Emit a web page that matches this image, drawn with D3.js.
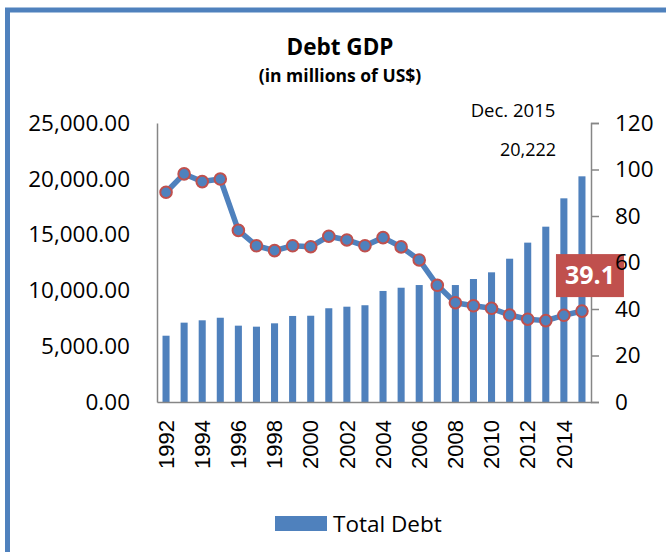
<!DOCTYPE html>
<html>
<head>
<meta charset="utf-8">
<script src="https://cdn.jsdelivr.net/npm/d3@7/dist/d3.min.js"></script>
<style>
  html, body { margin: 0; padding: 0; background: #fff; }
  svg { display: block; }
</style>
</head>
<body>
<script>
const years = [1992,1993,1994,1995,1996,1997,1998,1999,2000,2001,2002,2003,2004,2005,2006,2007,2008,2009,2010,2011,2012,2013,2014,2015];
const totalDebt = [5940,7110,7320,7550,6840,6750,7050,7710,7730,8400,8540,8670,9950,10240,10480,10550,10480,11020,11620,12840,14280,15710,18250,20222];
const debtGdp = [90.2,98.1,94.8,95.9,73.8,67.2,65.1,67.2,66.8,71.3,69.7,67.2,70.7,66.7,61.1,50.2,42.7,41.4,40.3,37.4,35.6,35.0,37.3,39.1];
const leftTicks = [0,5000,10000,15000,20000,25000];
const rightTicks = [0,20,40,60,80,100,120];
const xLabelYears = [1992,1994,1996,1998,2000,2002,2004,2006,2008,2010,2012,2014];
const titleText = "Debt GDP";
const subtitleText = "(in millions of US$)";
const legendText = "Total Debt";
const noteLines = ["Dec. 2015", "20,222"];
const lastLabel = "39.1";

const W = 666, H = 552;
const blue = "#4F81BD", red = "#C0504D", axisGray = "#868686";
const font = "'Open Sans', sans-serif";

const svg = d3.select("body").append("svg").attr("width", W).attr("height", H);

// frame
svg.append("rect").attr("x", 7.5).attr("y", 10).attr("width", 720).attr("height", 620)
  .attr("fill", "none").attr("stroke", blue).attr("stroke-width", 5);

const plot = {left: 157, right: 591, top: 123, bottom: 402};

const x = d3.scaleBand().domain(years).range([plot.left, plot.right])
  .paddingInner(0.61).paddingOuter(0.305);
const yL = d3.scaleLinear().domain([0, 25000]).range([plot.bottom, plot.top]);
const yR = d3.scaleLinear().domain([0, 120]).range([plot.bottom, plot.top]);

// titles
svg.append("text").attr("x", 340).attr("y", 55).attr("text-anchor", "middle")
  .attr("font-family", font).attr("font-weight", "bold").attr("font-size", 22.5).text(titleText);
svg.append("text").attr("x", 340).attr("y", 82).attr("text-anchor", "middle")
  .attr("font-family", font).attr("font-weight", "bold").attr("font-size", 17.5).text(subtitleText);

// bars
svg.append("g").selectAll("rect").data(years).join("rect")
  .attr("x", d => x(d)).attr("width", x.bandwidth())
  .attr("y", (d, i) => yL(totalDebt[i]))
  .attr("height", (d, i) => yL(0) - yL(totalDebt[i]))
  .attr("fill", blue);

// left axis
const gL = svg.append("g").attr("transform", `translate(${plot.left},0)`)
  .call(d3.axisLeft(yL).tickValues(leftTicks).tickSize(0).tickPadding(27)
    .tickFormat(d => d3.format(",.2f")(d)));
gL.select(".domain").attr("stroke", axisGray).attr("stroke-width", 1.5);
gL.selectAll("text").attr("font-family", font).attr("font-size", 22.5).attr("fill", "#000");

// x axis
const gX = svg.append("g").attr("transform", `translate(0,${plot.bottom})`)
  .call(d3.axisBottom(x).tickValues(xLabelYears).tickSize(0).tickSizeOuter(0));
gX.select(".domain").attr("stroke", axisGray).attr("stroke-width", 1.5);
gX.selectAll("text")
  .attr("font-family", "'Liberation Sans', Arial, sans-serif").attr("font-size", 22).attr("fill", "#000")
  .attr("transform", "rotate(-90)")
  .attr("text-anchor", "end")
  .attr("x", -18).attr("y", 0).attr("dy", "0.35em");

// right axis line + ticks
const gR = svg.append("g").attr("transform", `translate(${plot.right},0)`)
  .call(d3.axisRight(yR).tickValues(rightTicks).tickSize(8).tickSizeOuter(8).tickPadding(16));
gR.select(".domain").attr("stroke", axisGray).attr("stroke-width", 1.5);
gR.selectAll(".tick line").attr("stroke", axisGray).attr("stroke-width", 1.5);
gR.selectAll("text").remove();

// line
const line = d3.line().x((d, i) => x(years[i]) + x.bandwidth() / 2).y(d => yR(d));
svg.append("path").datum(debtGdp).attr("d", line)
  .attr("fill", "none").attr("stroke", blue).attr("stroke-width", 5.5).attr("stroke-linejoin", "round");
svg.append("g").selectAll("circle").data(debtGdp).join("circle")
  .attr("cx", (d, i) => x(years[i]) + x.bandwidth() / 2)
  .attr("cy", d => yR(d)).attr("r", 5.8)
  .attr("fill", blue).attr("stroke", red).attr("stroke-width", 2);

// highlighted last value label
const lastX = x(years[years.length - 1]) + x.bandwidth() / 2;
const lastY = yR(debtGdp[debtGdp.length - 1]);
svg.append("rect").attr("x", lastX - 26).attr("y", lastY - 57).attr("width", 68).attr("height", 43).attr("fill", red);
svg.append("text").attr("x", lastX + 8).attr("y", lastY - 35.5).attr("dy", "0.35em")
  .attr("text-anchor", "middle").attr("font-family", font).attr("font-weight", "bold")
  .attr("font-size", 25).attr("fill", "#fff").text(lastLabel);

// right axis labels (drawn above the label box)
svg.append("g").selectAll("text").data(rightTicks).join("text")
  .attr("x", plot.right + 24).attr("y", d => yR(d)).attr("dy", "0.35em")
  .attr("font-family", font).attr("font-size", 22.5).attr("fill", "#000")
  .text(d => d);

// annotation
svg.append("text").attr("x", 513).attr("y", 117).attr("text-anchor", "middle")
  .attr("font-family", font).attr("font-size", 18.5).text(noteLines[0]);
svg.append("text").attr("x", 528).attr("y", 156).attr("text-anchor", "middle")
  .attr("font-family", font).attr("font-size", 18).text(noteLines[1]);

// legend
svg.append("rect").attr("x", 275).attr("y", 516).attr("width", 52).attr("height", 15).attr("fill", blue);
svg.append("text").attr("x", 333).attr("y", 532).attr("font-family", font).attr("font-size", 22.5)
  .attr("fill", "#000").text(legendText);
</script>
</body>
</html>
